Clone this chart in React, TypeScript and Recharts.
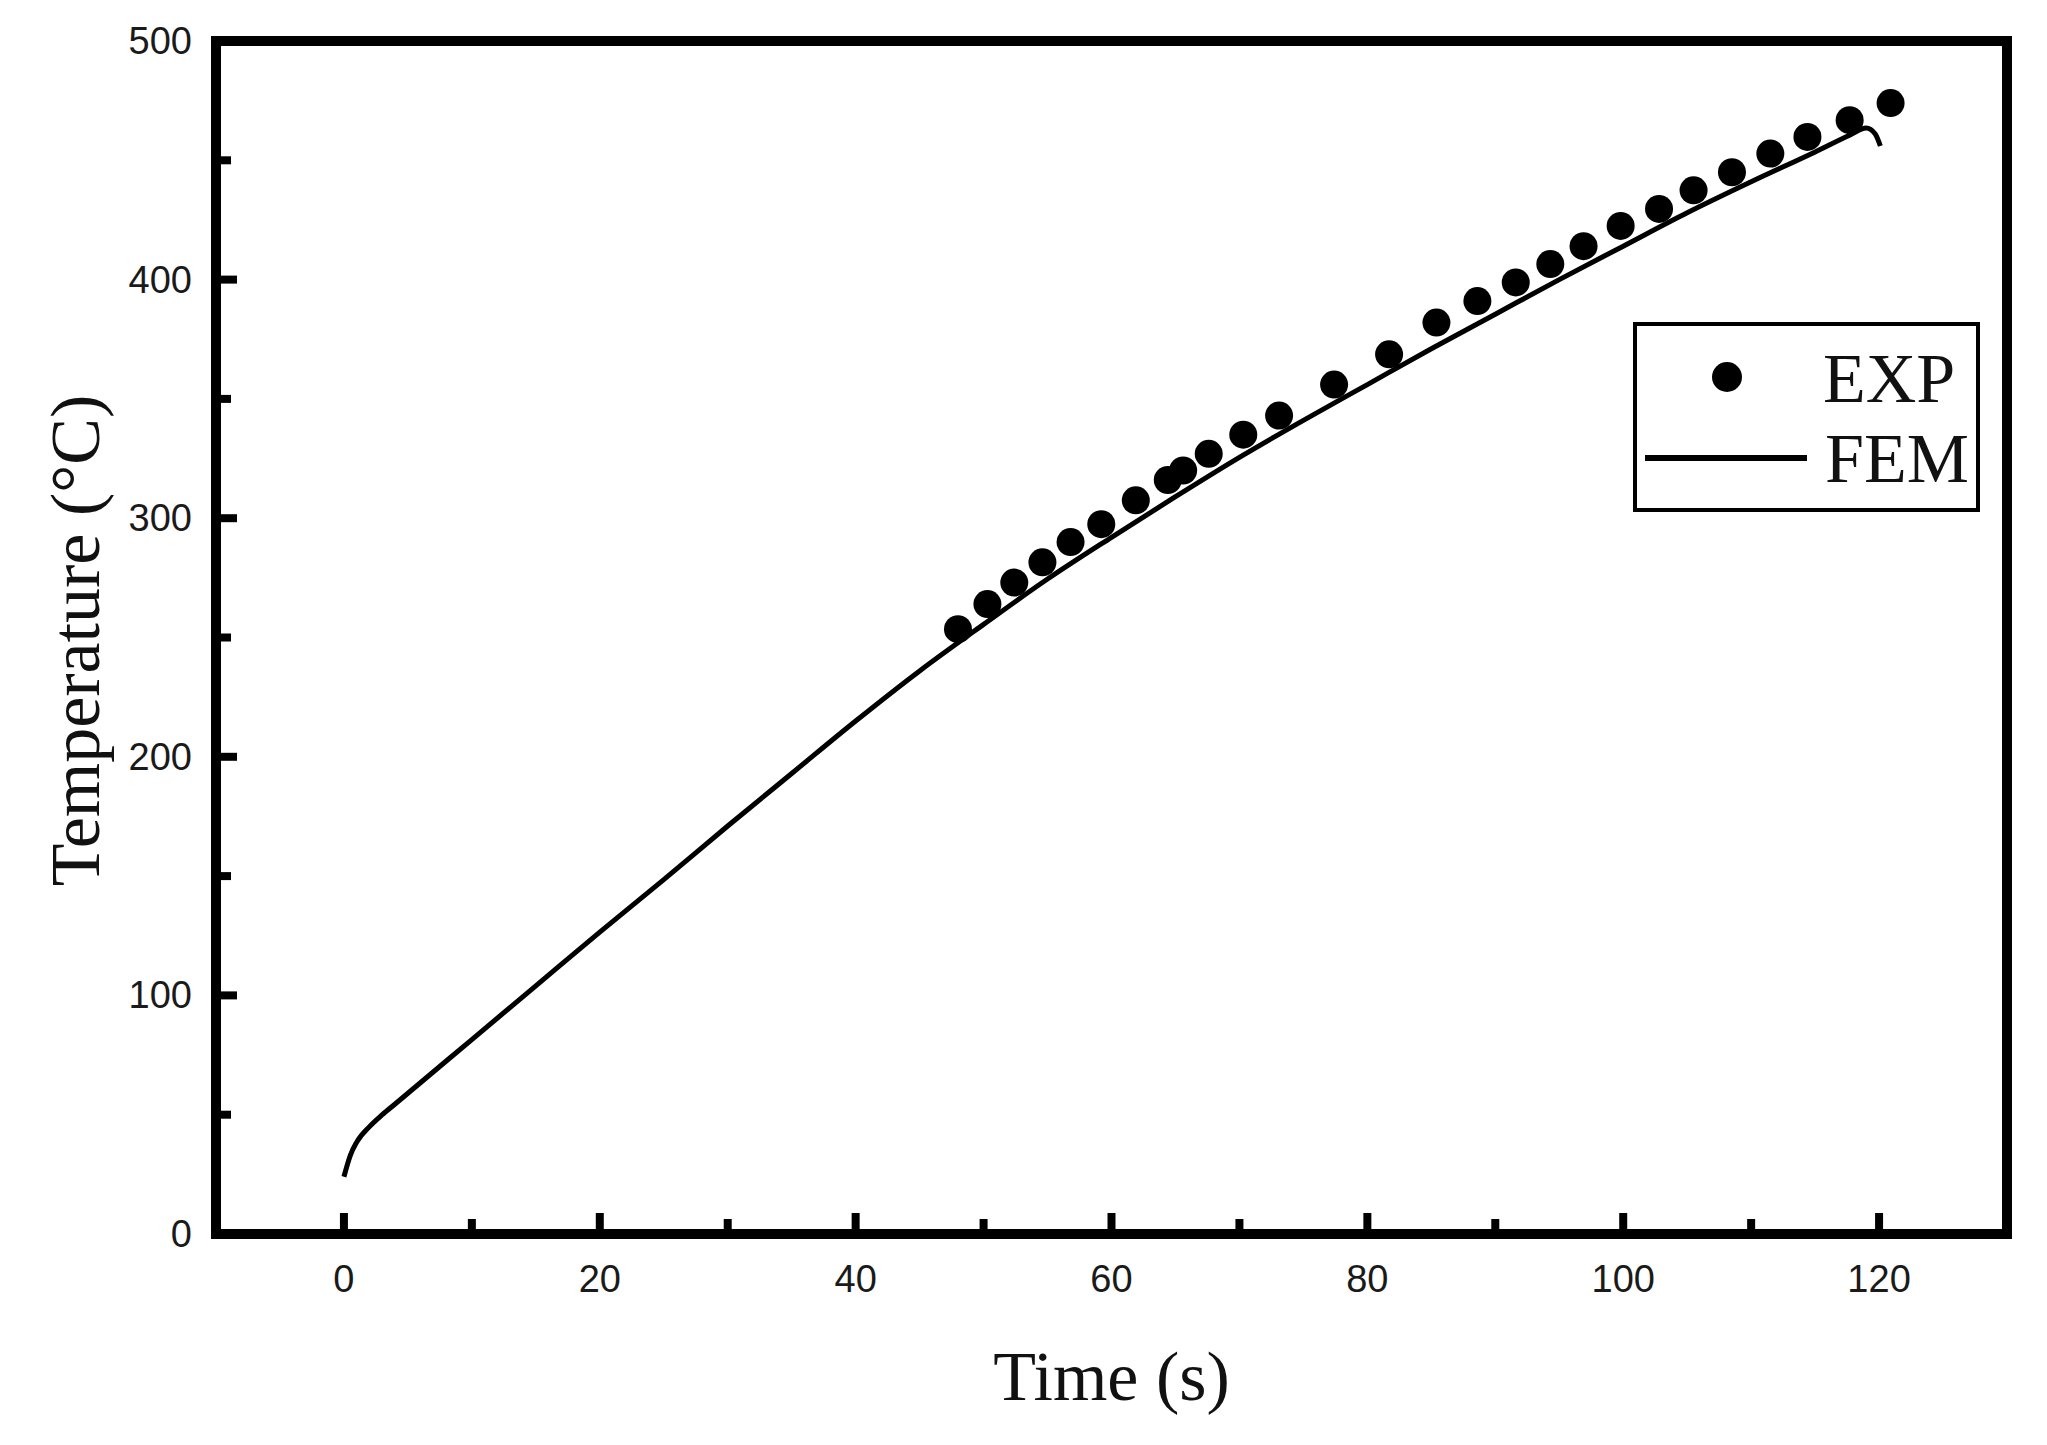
import {
  ComposedChart,
  Line,
  Scatter,
  XAxis,
  YAxis,
  Legend,
  ReferenceArea,
  Label,
} from 'recharts';

// Experimental readings (Time s, Temperature °C)
const expTime = [
  48.0, 50.3, 52.4, 54.6, 56.8, 59.2, 61.9, 64.4, 65.6, 67.6, 70.3, 73.1, 77.4, 81.7, 85.4, 88.6,
  91.6, 94.3, 96.9, 99.8, 102.8, 105.5, 108.5, 111.5, 114.4, 117.7, 120.9,
];
const expTemp = [
  253.5, 264, 273, 281.5, 290, 297.5, 307.5, 316, 320, 327, 335, 343, 356, 368.7, 382, 391,
  398.8, 406.5, 414, 422.5, 429.6, 437.4, 445, 452.8, 459.8, 466.8, 474,
];

// FEM simulation curve
const femTime = [
  0, 0.5, 1, 2, 3, 4, 6, 8, 10, 15, 20, 25, 30, 35, 40, 45, 50, 55, 60, 65, 70, 75, 80, 85, 90,
  95, 100, 105, 110, 115, 117.7, 119, 119.7, 120.1,
];
const femTemp = [
  24, 33, 38.5, 45, 50, 54.5, 63.5, 72.5, 81.5, 104, 126.5, 148.5, 171, 193, 215, 236, 255.5,
  274.5, 292, 309, 325.5, 341, 356, 371, 385.5, 400, 414, 428, 441, 453.5, 460.5, 463.5, 461, 456,
];

const xTicks = [0, 10, 20, 30, 40, 50, 60, 70, 80, 90, 100, 110, 120];
const xMajor = [0, 20, 40, 60, 80, 100, 120];
const yTicks = [0, 50, 100, 150, 200, 250, 300, 350, 400, 450, 500];
const yMajor = [0, 100, 200, 300, 400, 500];

const seriesNames = ['EXP', 'FEM'];

const expData = expTime.map((x, i) => ({ x, y: expTemp[i] }));
const femData = femTime.map((x, i) => ({ x, y: femTemp[i] }));

const SANS = '"Liberation Sans", Arial, sans-serif';
const SERIF = '"Liberation Serif", "Times New Roman", serif';

function XTick(props: any) {
  const { x, y, payload } = props;
  const major = xMajor.includes(payload.value);
  return (
    <g>
      <line x1={x} x2={x} y1={y} y2={y - (major ? 21 : 15)} stroke="#000" strokeWidth={8} />
      {major && (
        <text x={x} y={y + 58} textAnchor="middle" fontFamily={SANS} fontSize={38} fill="#1a1a1a">
          {payload.value}
        </text>
      )}
    </g>
  );
}

function YTick(props: any) {
  const { x, y, payload } = props;
  const major = yMajor.includes(payload.value);
  return (
    <g>
      <line x1={x} x2={x + (major ? 21 : 15)} y1={y} y2={y} stroke="#000" strokeWidth={8} />
      {major && (
        <text x={x - 24} y={y + 13} textAnchor="end" fontFamily={SANS} fontSize={38} fill="#1a1a1a">
          {payload.value}
        </text>
      )}
    </g>
  );
}

function renderLegend() {
  return (
    <svg width={347} height={190} style={{ display: 'block' }}>
      <rect x={2} y={2} width={343} height={186} fill="#fff" stroke="#000" strokeWidth={4} />
      <circle cx={94} cy={55} r={15} fill="#000" />
      <text x={190} y={80} fontFamily={SERIF} fontSize={70} fill="#111">
        {seriesNames[0]}
      </text>
      <line x1={12} x2={174} y1={136} y2={136} stroke="#000" strokeWidth={6} />
      <text x={192} y={160} fontFamily={SERIF} fontSize={70} fill="#111">
        {seriesNames[1]}
      </text>
    </svg>
  );
}

export default function App() {
  return (
    <div style={{ position: 'absolute', left: 0, top: 0, background: '#fff' }}>
      <ComposedChart width={2047} height={1445} margin={{ top: 41, right: 40, left: 0, bottom: 0 }}>
        <XAxis
          dataKey="x"
          type="number"
          domain={[-10, 130]}
          ticks={xTicks}
          interval={0}
          allowDataOverflow
          axisLine={false}
          tickLine={false}
          tickSize={0}
          tickMargin={0}
          tick={<XTick />}
          height={211}
        >
          <Label
            content={(p: any) => {
              const vb = p.viewBox;
              return (
                <text
                  x={vb.x + vb.width / 2}
                  y={vb.y + 166}
                  textAnchor="middle"
                  fontFamily={SERIF}
                  fontSize={70}
                  fill="#111"
                >
                  Time (s)
                </text>
              );
            }}
          />
        </XAxis>
        <YAxis
          type="number"
          domain={[0, 500]}
          ticks={yTicks}
          interval={0}
          allowDataOverflow
          axisLine={false}
          tickLine={false}
          tickSize={0}
          tickMargin={0}
          tick={<YTick />}
          width={216}
        >
          <Label
            content={(p: any) => {
              const vb = p.viewBox;
              const cx = 99;
              const cy = vb.y + vb.height / 2 + 3;
              return (
                <text
                  x={cx}
                  y={cy}
                  transform={`rotate(-90, ${cx}, ${cy})`}
                  textAnchor="middle"
                  fontFamily={SERIF}
                  fontSize={70}
                  fill="#111"
                >
                  Temperature (°C)
                </text>
              );
            }}
          />
        </YAxis>
        <Line
          data={femData}
          dataKey="y"
          name={seriesNames[1]}
          type="monotone"
          stroke="#000"
          strokeWidth={5}
          dot={false}
          activeDot={false}
          isAnimationActive={false}
        />
        <Scatter
          data={expData}
          dataKey="y"
          name={seriesNames[0]}
          fill="#000"
          shape={(p: any) => <circle cx={p.cx} cy={p.cy} r={14} fill="#000" />}
          isAnimationActive={false}
        />
        <ReferenceArea
          x1={-10}
          x2={130}
          y1={0}
          y2={500}
          fill="none"
          fillOpacity={0}
          stroke="#000"
          strokeWidth={10}
          ifOverflow="visible"
        />
        <Legend
          layout="horizontal"
          verticalAlign="middle"
          align="center"
          content={renderLegend}
          wrapperStyle={{ position: 'absolute', left: 1633, top: 322, width: 347, height: 190 }}
        />
      </ComposedChart>
    </div>
  );
}
